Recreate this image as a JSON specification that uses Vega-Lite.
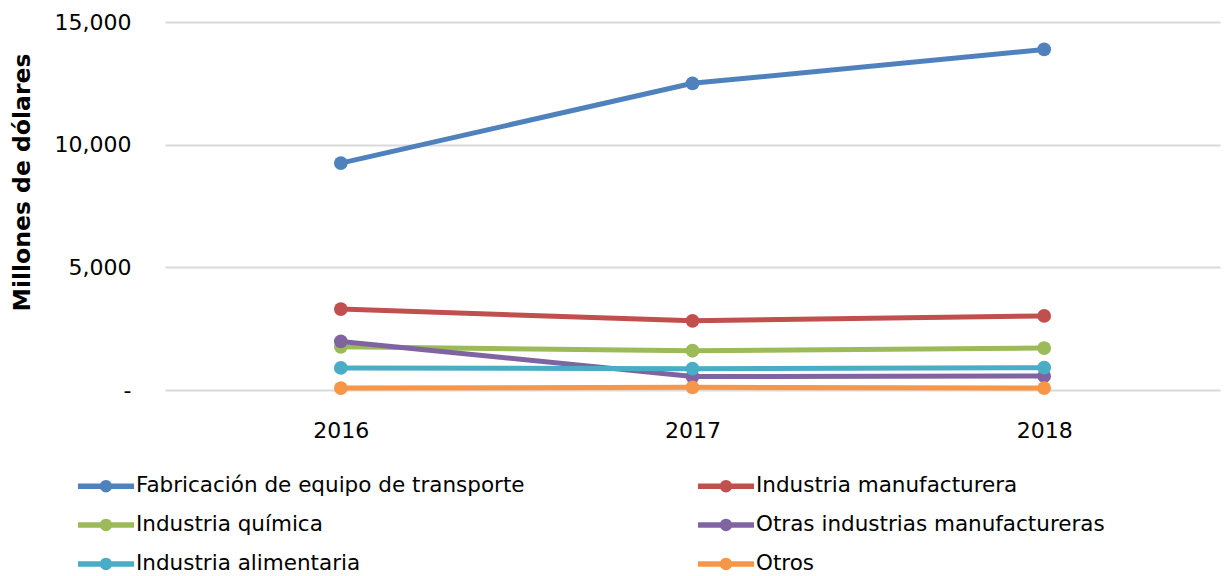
{
  "$schema": "https://vega.github.io/schema/vega-lite/v6.json",
  "width": 1055,
  "height": 368,
  "autosize": {"type": "none"},
  "padding": {"left": 165, "top": 22, "right": 5, "bottom": 186},
  "background": "white",
  "config": {
    "font": "DejaVu Sans",
    "view": {"stroke": null}
  },
  "data": {
    "values": [
      {"year": "2016", "sector": "Fabricación de equipo de transporte", "value": 9250},
      {"year": "2017", "sector": "Fabricación de equipo de transporte", "value": 12500},
      {"year": "2018", "sector": "Fabricación de equipo de transporte", "value": 13880},
      {"year": "2016", "sector": "Industria manufacturera", "value": 3300},
      {"year": "2017", "sector": "Industria manufacturera", "value": 2820},
      {"year": "2018", "sector": "Industria manufacturera", "value": 3020},
      {"year": "2016", "sector": "Industria química", "value": 1760},
      {"year": "2017", "sector": "Industria química", "value": 1600},
      {"year": "2018", "sector": "Industria química", "value": 1710},
      {"year": "2016", "sector": "Otras industrias manufactureras", "value": 1980},
      {"year": "2017", "sector": "Otras industrias manufactureras", "value": 550},
      {"year": "2018", "sector": "Otras industrias manufactureras", "value": 570},
      {"year": "2016", "sector": "Industria alimentaria", "value": 900},
      {"year": "2017", "sector": "Industria alimentaria", "value": 870},
      {"year": "2018", "sector": "Industria alimentaria", "value": 910},
      {"year": "2016", "sector": "Otros", "value": 80},
      {"year": "2017", "sector": "Otros", "value": 110},
      {"year": "2018", "sector": "Otros", "value": 80}
    ]
  },
  "encoding": {
    "x": {
      "field": "year", "type": "ordinal",
      "scale": {"type": "point", "padding": 0.5},
      "axis": {"title": null, "labelAngle": 0, "domain": false, "ticks": false, "labelFontSize": 22, "labelPadding": 30, "labelColor": "#000000"}
    },
    "y": {
      "field": "value", "type": "quantitative",
      "scale": {"domain": [0, 15000]},
      "axis": {
        "title": "Millones de dólares", "titleFontSize": 23.5, "titleFontWeight": "bold", "titleColor": "#000000", "titlePadding": 20, "titleY": 160,
        "values": [0, 5000, 10000, 15000],
        "labelExpr": "datum.value == 0 ? '-' : format(datum.value, ',')",
        "labelFontSize": 22, "labelColor": "#000000", "labelPadding": 34,
        "domain": false, "ticks": false, "gridColor": "#d9d9d9", "gridWidth": 2
      }
    },
    "color": {
      "field": "sector", "type": "nominal",
      "scale": {
        "domain": ["Fabricación de equipo de transporte", "Industria química", "Industria alimentaria", "Industria manufacturera", "Otras industrias manufactureras", "Otros"],
        "range": ["#4F81BD", "#9BBB59", "#4BACC6", "#C0504D", "#8064A2", "#F79646"]
      },
      "legend": {
        "title": null, "orient": "none", "legendX": -87, "legendY": 436,
        "columns": 2, "columnPadding": 173, "rowPadding": -5,
        "symbolType": "M-1,-0.1L1,-0.1L1,0.1L-1,0.1Z M0.22,0 A0.22,0.22 0 1,1 -0.22,0 A0.22,0.22 0 1,1 0.22,0Z",
        "symbolSize": 3136, "symbolStrokeWidth": 0, "symbolOpacity": 1,
        "labelFontSize": 21.5, "labelColor": "#000000", "labelOffset": 2, "labelLimit": 500
      }
    }
  },
  "layer": [
    {"mark": {"type": "line", "strokeWidth": 5}},
    {"mark": {"type": "point", "filled": true, "size": 190, "opacity": 1}}
  ]
}
